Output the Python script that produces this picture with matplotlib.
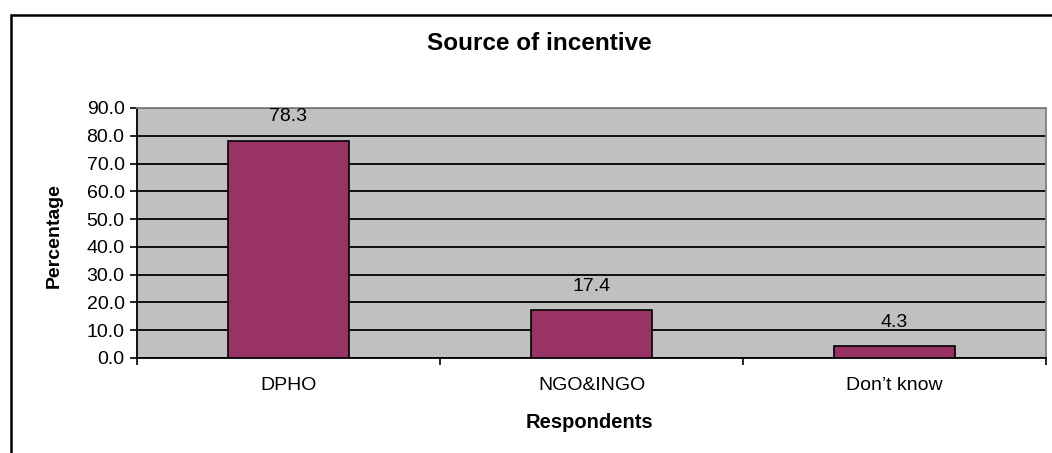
import matplotlib.pyplot as plt
from matplotlib.patches import Rectangle

categories = ["DPHO", "NGO&INGO", "Don\u2019t know"]
percent = [78.3, 17.4, 4.3]

plt.rcParams['font.family'] = ['Liberation Sans', 'DejaVu Sans']

fig = plt.figure(figsize=(10.52, 4.53), dpi=100)
ax = fig.add_axes([137 / 1052, 1 - 358 / 453, (1046 - 137) / 1052, 250 / 453])

# outer chart border
fig.patches.append(Rectangle((11 / 1052, -0.1), 1.2, 1 - 15 / 453 + 0.1,
                             transform=fig.transFigure, fill=False,
                             edgecolor='black', linewidth=1.8, zorder=0))

ax.set_facecolor('#C0C0C0')
x = range(len(categories))
bars = ax.bar(x, percent, width=0.4, color='#993366', edgecolor='black',
              linewidth=1.2, zorder=3)
for i, v in enumerate(percent):
    ax.annotate(f"{v:.1f}", (i, v), xytext=(0, 17), textcoords='offset points',
                ha='center', va='center', fontsize=14)

ax.set_xlim(-0.5, 2.5)
ax.set_ylim(0, 90)
ax.set_yticks(range(0, 91, 10))
ax.set_yticklabels([f"{t:.1f}" for t in range(0, 91, 10)], fontsize=14)
ax.yaxis.grid(True, color='black', linewidth=1.3, zorder=1)
ax.set_axisbelow(True)

ax.set_xticks([-0.5, 0.5, 1.5, 2.5])
ax.set_xticklabels([])
ax.set_xticks(list(x), minor=True)
ax.set_xticklabels(categories, minor=True, fontsize=14)
ax.tick_params(axis='x', which='minor', length=0, pad=14)
ax.tick_params(axis='both', which='major', length=5, width=1.2, direction='out')
ax.tick_params(axis='y', pad=4)

for side in ['left', 'bottom']:
    ax.spines[side].set_color('black')
    ax.spines[side].set_linewidth(1.3)
for side in ['top', 'right']:
    ax.spines[side].set_color('#808080')
    ax.spines[side].set_linewidth(1.3)

fig.text(539 / 1052, 1 - 43 / 453, "Source of incentive", ha='center', va='center',
         fontsize=17.5, fontweight='bold')
ax.set_ylabel("Percentage", fontsize=14, fontweight='bold')
ax.set_xlabel("Respondents", fontsize=14.5, fontweight='bold')
ax.yaxis.set_label_coords(-0.0913, 0.49)
ax.yaxis.label.set_verticalalignment('center')
ax.xaxis.set_label_coords(0.498, -0.26)
ax.xaxis.label.set_verticalalignment('center')

fig.savefig("out.png", dpi=100)
